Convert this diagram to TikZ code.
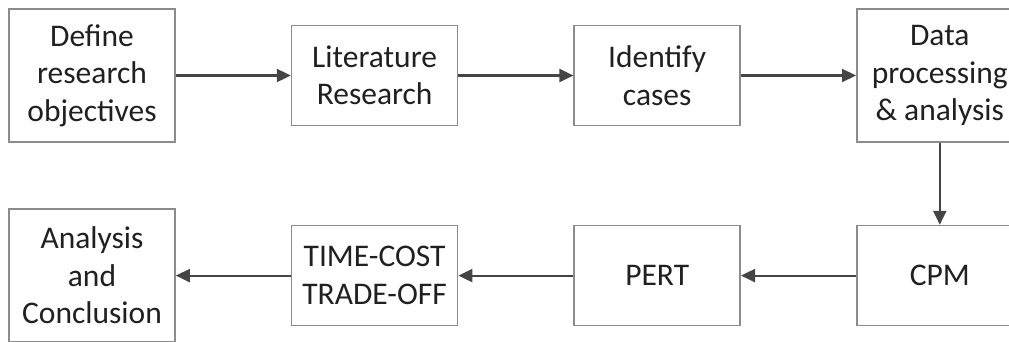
\documentclass[tikz,border=0pt]{standalone}
\usepackage{fontspec}
\setmainfont{Carlito}
\usetikzlibrary{positioning,arrows.meta}
\definecolor{boxgray}{HTML}{8C8C8C}
\definecolor{arrowgray}{HTML}{454545}
\definecolor{textgray}{HTML}{202020}
\tikzstyle{block} = [rectangle, draw=boxgray, line width=1.6pt, text=textgray, align=center, minimum width=166pt, inner sep=2pt, font=\fontsize{31.5}{37.5}\selectfont]
\tikzstyle{tall} = [block, minimum height=133pt]
\tikzstyle{short} = [block, minimum height=100pt]
\tikzstyle{link} = [->, draw=arrowgray, line width=2.2pt]

\begin{document}
\begin{tikzpicture}[node distance=115pt, >={Triangle[length=14pt,width=13pt]}]
    \useasboundingbox (0,0) rectangle (1009pt,-342pt);
    \clip (0,0) rectangle (1009pt,-342pt);
    % upper row
    \node[tall] (define) at (92pt,-75.5pt) {Define\\research\\objectives};
    \node[short, right=of define] (litres) {Literature\\Research};
    \node[short, right=of litres] (cases) {Identify\\cases};
    \node[tall, right=of cases] (dataproc) {Data\\processing\\\& analysis};

    % lower row
    \node[short, below=82pt of dataproc] (cpm) {CPM};
    \node[short, left=of cpm] (pert) {PERT};
    \node[short, left=of pert] (tradeoff) {TIME-COST\\TRADE-OFF};
    \node[tall, left=of tradeoff] (concl) {Analysis\\and\\Conclusion};

    % links
    \draw[link] (define) -- (litres);
    \draw[link] (litres) -- (cases);
    \draw[link] (cases) -- (dataproc);
    \draw[link] (dataproc) -- (cpm);
    \draw[link] (cpm) -- (pert);
    \draw[link] (pert) -- (tradeoff);
    \draw[link] (tradeoff) -- (concl);
\end{tikzpicture}
\end{document}
